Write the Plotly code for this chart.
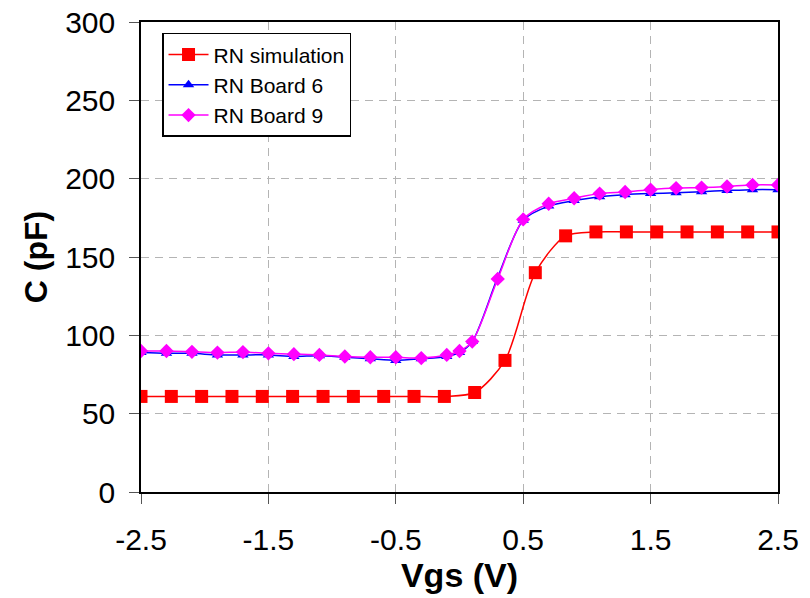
import plotly.graph_objects as go

# Simulation (22 points)
sim_x = [-2.5, -2.262, -2.024, -1.786, -1.548, -1.310, -1.071, -0.833, -0.595, -0.357, -0.119,
         0.119, 0.357, 0.595, 0.833, 1.071, 1.310, 1.548, 1.786, 2.024, 2.262, 2.5]
sim_y = [61, 61, 61, 61, 61, 61, 61, 61, 61, 61, 61,
         63.5, 84, 140, 163.5, 166, 166, 166, 166, 166, 166, 166]

# Measured boards (27 points)
meas_x = [-2.5, -2.3, -2.1, -1.9, -1.7, -1.5, -1.3, -1.1, -0.9, -0.7, -0.5, -0.3, -0.1,
          0.0, 0.1, 0.3, 0.5, 0.7, 0.9, 1.1, 1.3, 1.5, 1.7, 1.9, 2.1, 2.3, 2.5]
board6_y = [89, 88.5, 88.5, 87.5, 87.5, 87.5, 86.5, 87, 86, 85, 84, 85, 86.5,
            89, 96, 137, 173.5, 182.5, 186, 188.5, 189.8, 190.5, 191, 191.7, 192.4, 193, 193]
board9_y = [90, 90, 89.5, 89, 89.3, 88.5, 88, 87.5, 86.5, 86, 86, 85.5, 87.5,
            90, 96, 136, 174, 184, 187.5, 190.5, 191.5, 193, 194, 194.3, 195, 196, 196]

x_ticks = [-2.5, -1.5, -0.5, 0.5, 1.5, 2.5]
y_ticks = [0, 50, 100, 150, 200, 250, 300]

FONT = "Liberation Sans, Arial, sans-serif"

fig = go.Figure()
fig.add_trace(go.Scatter(
    x=sim_x, y=sim_y, name="RN simulation", mode="lines+markers",
    line=dict(color="#ff0000", width=1.5, shape="spline", smoothing=0.8),
    marker=dict(symbol="square", size=13, color="#ff0000"),
))
fig.add_trace(go.Scatter(
    x=meas_x, y=board6_y, name="RN Board 6", mode="lines+markers",
    line=dict(color="#0000ff", width=1.5, shape="spline", smoothing=0.8),
    marker=dict(symbol="triangle-up", size=10, color="#0000ff"),
))
fig.add_trace(go.Scatter(
    x=meas_x, y=board9_y, name="RN Board 9", mode="lines+markers",
    line=dict(color="#ff00ff", width=1.5, shape="spline", smoothing=0.8),
    marker=dict(symbol="diamond", size=11, color="#ff00ff"),
))

axis_common = dict(
    showline=True, linecolor="#000000", linewidth=1.5, mirror=True,
    ticks="outside", ticklen=10, tickcolor="#555555", tickwidth=1,
    showgrid=True, gridcolor="#b4b4b4", gridwidth=1, griddash="8px,6px",
    zeroline=False, automargin=False,
    tickfont=dict(family=FONT, size=30, color="#000000"),
)

fig.update_xaxes(
    range=[-2.5, 2.5], tickvals=x_ticks, ticktext=[str(v) for v in x_ticks],
    title=dict(text="<b>Vgs (V)</b>", font=dict(family=FONT, size=34, color="#000000"), standoff=8),
    ticklabelstandoff=10,
    **axis_common,
)
fig.update_yaxes(
    range=[0, 300], tickvals=y_ticks,
    title=dict(text="<b>C (pF)</b>", font=dict(family=FONT, size=32, color="#000000"), standoff=8),
    ticklabelstandoff=8,
    **axis_common,
)

fig.update_layout(
    width=810, height=598,
    margin=dict(l=141, r=32, t=22, b=106),
    paper_bgcolor="white", plot_bgcolor="white",
    showlegend=True,
    legend=dict(
        x=0.033, y=0.977, xanchor="left", yanchor="top",
        bgcolor="white", bordercolor="#000000", borderwidth=1.5,
        font=dict(family=FONT, size=21, color="#000000"),
        itemwidth=40, tracegroupgap=0,
    ),
)

fig.write_html(
    "out.html",
    config={"displayModeBar": False},
    post_script="document.body.style.margin='0';document.body.style.overflow='hidden';",
)
